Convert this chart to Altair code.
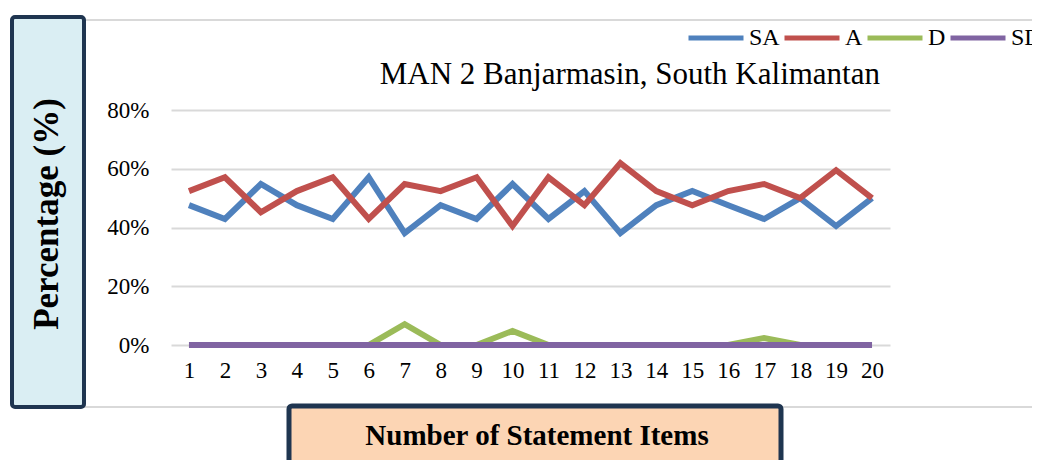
import altair as alt
import pandas as pd

items = list(range(1, 21))
sa = [47.6, 42.9, 54.8, 47.6, 42.9, 57.1, 38.1, 47.6, 42.9, 54.8,
      42.9, 52.4, 38.1, 47.6, 52.4, 47.6, 42.9, 50.0, 40.5, 50.0]
a = [52.4, 57.1, 45.2, 52.4, 57.1, 42.9, 54.8, 52.4, 57.1, 40.5,
     57.1, 47.6, 61.9, 52.4, 47.6, 52.4, 54.8, 50.0, 59.5, 50.0]
d = [0, 0, 0, 0, 0, 0, 7.1, 0, 0, 4.8,
     0, 0, 0, 0, 0, 0, 2.4, 0, 0, 0]
sd = [0] * 20
series_names = ["SA", "A", "D", "SD"]
series_colors = ["#4F81BD", "#C0504D", "#9BBB59", "#8064A2"]
y_ticks = [0, 0.2, 0.4, 0.6, 0.8]

rows = []
for name, vals in zip(series_names, [sa, a, d, sd]):
    for it, v in zip(items, vals):
        rows.append({"item": it, "series": name, "order": series_names.index(name), "value": v / 100})
df = pd.DataFrame(rows)

FONT = "Liberation Serif"
W, H = 719, 235

frame = alt.Chart().mark_rect(fill="transparent", stroke="#D9D9D9", strokeWidth=2, clip=False).encode(
    x=alt.value(-86), x2=alt.value(880), y=alt.value(-90), y2=alt.value(297))

left_box = alt.Chart().mark_rect(fill="#DAEEF3", stroke="#1F3550", strokeWidth=4,
                                 cornerRadius=3, clip=False).encode(
    x=alt.value(-159), x2=alt.value(-87), y=alt.value(-93), y2=alt.value(297))

bottom_box = alt.Chart().mark_rect(fill="#FCD5B4", stroke="#1F3550", strokeWidth=5,
                                   cornerRadius=3, clip=False).encode(
    x=alt.value(118), x2=alt.value(610), y=alt.value(296), y2=alt.value(380))

lines = alt.Chart(df).mark_line(strokeWidth=6, clip=False).encode(
    x=alt.X("item:O", title=None,
            axis=alt.Axis(labelAngle=0, labelFont=FONT, labelFontSize=23, labelColor="#000000",
                          labelPadding=14, ticks=False, domain=False, grid=False)),
    y=alt.Y("value:Q", title=None,
            scale=alt.Scale(domain=[0, 0.8], nice=False),
            axis=alt.Axis(values=y_ticks, format=".0%", labelFont=FONT, labelFontSize=23,
                          labelColor="#000000", labelPadding=22, ticks=False, domain=False,
                          gridColor="#D9D9D9", gridWidth=2)),
    color=alt.Color("series:N", sort=series_names,
                    scale=alt.Scale(domain=series_names, range=series_colors),
                    legend=alt.Legend(title=None, orient="none", direction="horizontal",
                                      legendX=515, legendY=-102, symbolType="stroke",
                                      symbolSize=3025, symbolStrokeWidth=5,
                                      labelFont=FONT, labelFontSize=24, labelColor="#000000",
                                      columnPadding=-6, labelOffset=3)),
    order=alt.Order("order:Q"),
)

title_txt = alt.Chart().mark_text(text="MAN 2 Banjarmasin, South Kalimantan", font=FONT,
                                  fontSize=31, align="right", baseline="middle",
                                  color="#000000").encode(
    x=alt.value(709), y=alt.value(-35))

y_title = alt.Chart().mark_text(text="Percentage (%)", font=FONT, fontSize=35, fontWeight="bold",
                                angle=270, align="center", baseline="middle",
                                color="#000000").encode(
    x=alt.value(-124), y=alt.value(104))

x_title = alt.Chart().mark_text(text="Number of Statement Items", font=FONT, fontSize=29,
                                fontWeight="bold", align="center", baseline="middle",
                                color="#000000").encode(
    x=alt.value(366), y=alt.value(326))

chart = alt.layer(frame, left_box, bottom_box, lines, title_txt, y_title, x_title).properties(
    width=W, height=H,
    view=alt.ViewBackground(stroke="transparent", strokeWidth=0),
    autosize=alt.AutoSizeParams(type="none"),
    padding={"left": 163, "top": 102, "right": 142, "bottom": 115},
).configure_view(stroke="transparent", strokeWidth=0, strokeOpacity=0).configure_axisX(
    grid=False, domain=False
).configure_axisY(domain=False).configure(background="white")

chart.save("out.html", embed_options={"renderer": "svg", "actions": False})
